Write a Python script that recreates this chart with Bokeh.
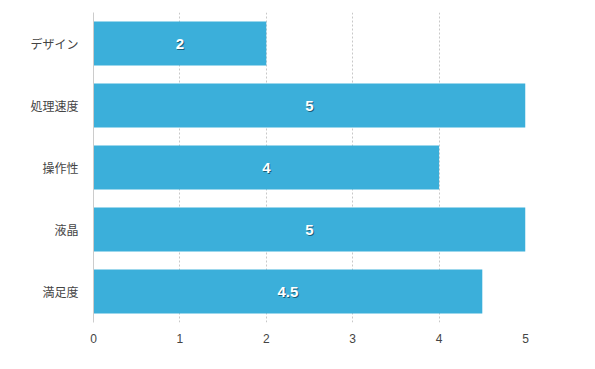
from bokeh.plotting import figure
from bokeh.models import Range1d, FactorRange, ColumnDataSource, FixedTicker
from bokeh.core.properties import value
from bokeh.embed import file_html
from bokeh.resources import INLINE

categories = ["デザイン", "処理速度", "操作性", "液晶", "満足度"]
scores = [2, 5, 4, 5, 4.5]
labels = ["2", "5", "4", "5", "4.5"]
x_ticks = [0, 1, 2, 3, 4, 5]

src = ColumnDataSource(dict(
    cat=categories,
    val=scores,
    mid=[v / 2 for v in scores],
    lab=labels,
))

p = figure(width=587, height=361, output_backend="svg", toolbar_location=None,
           y_range=FactorRange(*reversed(categories), range_padding=0),
           x_range=Range1d(0, 5),
           min_border_left=93, min_border_right=62, min_border_top=12, min_border_bottom=39)
p.outline_line_color = None
p.background_fill_color = "white"

p.hbar(y="cat", left=0, right="val", height=0.71, source=src,
       fill_color="#3bafda", line_color=None)

p.text(x="mid", y="cat", text="lab", source=src, x_offset=1, y_offset=1.5,
       text_align="center", text_baseline="middle", text_color="#0b3a4d", text_alpha=0.7,
       text_font=value("Liberation Sans"), text_font_size="15px", text_font_style="bold")
p.text(x="mid", y="cat", text="lab", source=src,
       text_align="center", text_baseline="middle", text_color="white",
       text_font=value("Liberation Sans"), text_font_size="15px", text_font_style="bold")

p.xaxis.ticker = FixedTicker(ticks=x_ticks)
p.xaxis.axis_line_color = None
p.xaxis.major_tick_line_color = None
p.xaxis.minor_tick_line_color = None
p.xaxis.major_label_text_font = "Liberation Sans"
p.xaxis.major_label_text_font_size = "12px"
p.xaxis.major_label_text_color = "#444444"
p.xaxis.major_label_standoff = 5

p.yaxis.axis_line_color = "#cccccc"
p.yaxis.major_tick_line_color = None
p.yaxis.minor_tick_line_color = None
p.yaxis.major_label_text_font = "Noto Sans CJK JP"
p.yaxis.major_label_text_font_size = "12px"
p.yaxis.major_label_text_color = "#444444"
p.yaxis.major_label_standoff = 9

p.ygrid.grid_line_color = None
p.xgrid.grid_line_color = "#c8c8c8"
p.xgrid.grid_line_dash = "2 2"
p.xgrid.grid_line_width = 1

open("out.html", "w").write(file_html(p, INLINE))
